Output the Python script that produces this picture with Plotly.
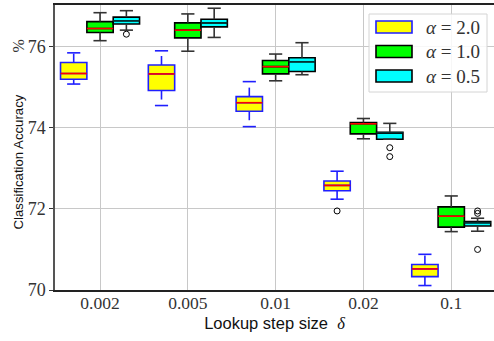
import plotly.graph_objects as go

categories = ["0.002", "0.005", "0.01", "0.02", "0.1"]
series_names = ["<i>α</i> = 2.0", "<i>α</i> = 1.0", "<i>α</i> = 0.5"]

a20_lower = [75.08, 74.55, 74.03, 72.24, 70.11]
a20_q1 = [75.20, 74.92, 74.41, 72.45, 70.33]
a20_med = [75.34, 75.33, 74.62, 72.58, 70.52]
a20_q3 = [75.61, 75.55, 74.77, 72.69, 70.63]
a20_upper = [75.85, 75.90, 75.14, 72.93, 70.88]
a20_out = [[], [], [], [71.95], []]

a10_lower = [76.15, 75.89, 75.16, 73.73, 71.44]
a10_q1 = [76.35, 76.22, 75.33, 73.85, 71.55]
a10_med = [76.45, 76.41, 75.51, 74.10, 71.82]
a10_q3 = [76.62, 76.59, 75.66, 74.13, 72.05]
a10_upper = [76.84, 76.81, 75.82, 74.23, 72.32]
a10_out = [[], [], [], [], []]

a05_lower = [76.41, 76.23, 75.31, 73.72, 71.45]
a05_q1 = [76.56, 76.49, 75.39, 73.72, 71.58]
a05_med = [76.64, 76.59, 75.63, 73.88, 71.66]
a05_q3 = [76.73, 76.68, 75.73, 73.89, 71.69]
a05_upper = [76.89, 76.95, 76.10, 74.11, 71.77]
a05_out = [[76.31], [], [], [73.51, 73.29], [71.95, 71.89, 71.00]]

series = [
    dict(name=series_names[0], lower=a20_lower, q1=a20_q1, med=a20_med, q3=a20_q3, upper=a20_upper, out=a20_out,
         fill="#ffff00", edge="#1f1fff", medc="#ff0000", wdash="dash", offset=-0.3),
    dict(name=series_names[1], lower=a10_lower, q1=a10_q1, med=a10_med, q3=a10_q3, upper=a10_upper, out=a10_out,
         fill="#00ff00", edge="#000000", medc="#ff0000", wdash="solid", offset=0.0),
    dict(name=series_names[2], lower=a05_lower, q1=a05_q1, med=a05_med, q3=a05_q3, upper=a05_upper, out=a05_out,
         fill="#00ffff", edge="#000000", medc="#003333", wdash="solid", offset=0.3),
]

BW = 0.3
CAP = 0.15
fig = go.Figure()

for s in series:
    pos = [i + s["offset"] for i in range(len(categories))]
    fig.add_trace(go.Box(
        x=pos, q1=s["q1"], median=s["med"], q3=s["q3"],
        lowerfence=s["q1"], upperfence=s["q3"],
        width=BW, whiskerwidth=0, boxpoints=False,
        fillcolor=s["fill"], line=dict(color=s["edge"], width=1.6),
        name=s["name"], showlegend=False, hoverinfo="skip",
    ))

for s in series:
    pos = [i + s["offset"] for i in range(len(categories))]
    wx, wy, cx, cy, mx, my = [], [], [], [], [], []
    for p, lo, a, m, b, hi in zip(pos, s["lower"], s["q1"], s["med"], s["q3"], s["upper"]):
        wx += [p, p, None, p, p, None]
        wy += [b, hi, None, a, lo, None]
        cx += [p - CAP / 2, p + CAP / 2, None, p - CAP / 2, p + CAP / 2, None]
        cy += [hi, hi, None, lo, lo, None]
        mx += [p - BW / 2, p + BW / 2, None]
        my += [m, m, None]
    wcol = s["edge"] if s["edge"] != "#000000" else "#333333"
    fig.add_trace(go.Scatter(x=wx, y=wy, mode="lines", line=dict(color=wcol, width=1.6, dash=s["wdash"]),
                             showlegend=False, hoverinfo="skip"))
    fig.add_trace(go.Scatter(x=cx, y=cy, mode="lines", line=dict(color=wcol, width=1.6),
                             showlegend=False, hoverinfo="skip"))
    fig.add_trace(go.Scatter(x=mx, y=my, mode="lines", line=dict(color=s["medc"], width=1.6),
                             showlegend=False, hoverinfo="skip"))
    ox, oy = [], []
    for p, outs in zip(pos, s["out"]):
        for v in outs:
            ox.append(p)
            oy.append(v)
    if ox:
        fig.add_trace(go.Scatter(x=ox, y=oy, mode="markers",
                                 marker=dict(symbol="circle-open", color="#000000", size=6, line=dict(width=1)),
                                 showlegend=False, hoverinfo="skip"))

serif = "Liberation Serif, DejaVu Serif, serif"
sans = "Liberation Sans, Arial, sans-serif"

# legend and y-title placed in paper coordinates (pixel layout helpers)
L, T, PW, PH = 55, 5, 439, 285
def px(xp):
    return (xp - L) / PW
def py(yp):
    return (T + PH - yp) / PH

shapes = [dict(type="rect", xref="paper", yref="paper", x0=px(369), x1=px(487), y0=py(92), y1=py(14),
               line=dict(color="#d4d4d4", width=1), fillcolor="rgba(255,255,255,0.85)", layer="above")]
annotations = []
for k, s in enumerate(series):
    yc = 27 + k * 24.5
    shapes.append(dict(type="rect", xref="paper", yref="paper", x0=px(376), x1=px(412),
                       y0=py(yc + 6), y1=py(yc - 6), fillcolor=s["fill"],
                       line=dict(color=s["edge"], width=1.6), layer="above"))
    annotations.append(dict(xref="paper", yref="paper", x=px(424), y=py(yc), xanchor="left", yanchor="middle",
                            text=s["name"], showarrow=False,
                            font=dict(family=serif, size=19, color="#333333")))

annotations.append(dict(xref="paper", yref="paper", x=px(18), y=py(162.5), xanchor="center", yanchor="middle",
                        text="Classification Accuracy", textangle=-90, showarrow=False,
                        font=dict(family=sans, size=13.2, color="#111111")))
annotations.append(dict(xref="paper", yref="paper", x=px(18), y=py(46.5), xanchor="center", yanchor="middle",
                        text="%", textangle=-90, showarrow=False,
                        font=dict(family=serif, size=16, color="#333333")))

fig.update_layout(
    width=494, height=341,
    margin=dict(l=55, r=0, t=5, b=51, autoexpand=False),
    plot_bgcolor="white", paper_bgcolor="white",
    showlegend=False,
    shapes=shapes, annotations=annotations,
    xaxis=dict(
        range=[-0.513, 4.487], tickmode="array",
        tickvals=list(range(len(categories))), ticktext=categories,
        showgrid=True, gridcolor="#c8c8c8", gridwidth=1,
        showline=True, linecolor="#222222", linewidth=1.5, mirror=True,
        ticks="", zeroline=False, automargin=False, ticklabelstandoff=-4,
        tickfont=dict(family=serif, size=17.5, color="#333333"),
        title=dict(text="Lookup step size  <span style='font-family:Liberation Serif'><i>δ</i></span>",
                   font=dict(family=sans, size=16.5, color="#111111"), standoff=6),
    ),
    yaxis=dict(
        range=[70, 77.03], tickvals=[70, 72, 74, 76],
        showgrid=True, gridcolor="#c8c8c8", gridwidth=1,
        showline=True, linecolor="#555555", linewidth=1.5,
        ticks="outside", ticklen=4, tickcolor="#333333", zeroline=False, automargin=False,
        tickfont=dict(family=serif, size=18, color="#333333"),
    ),
)

fig.write_html("out.html", post_script="document.body.style.margin='0px';",
               config={"displayModeBar": False})
